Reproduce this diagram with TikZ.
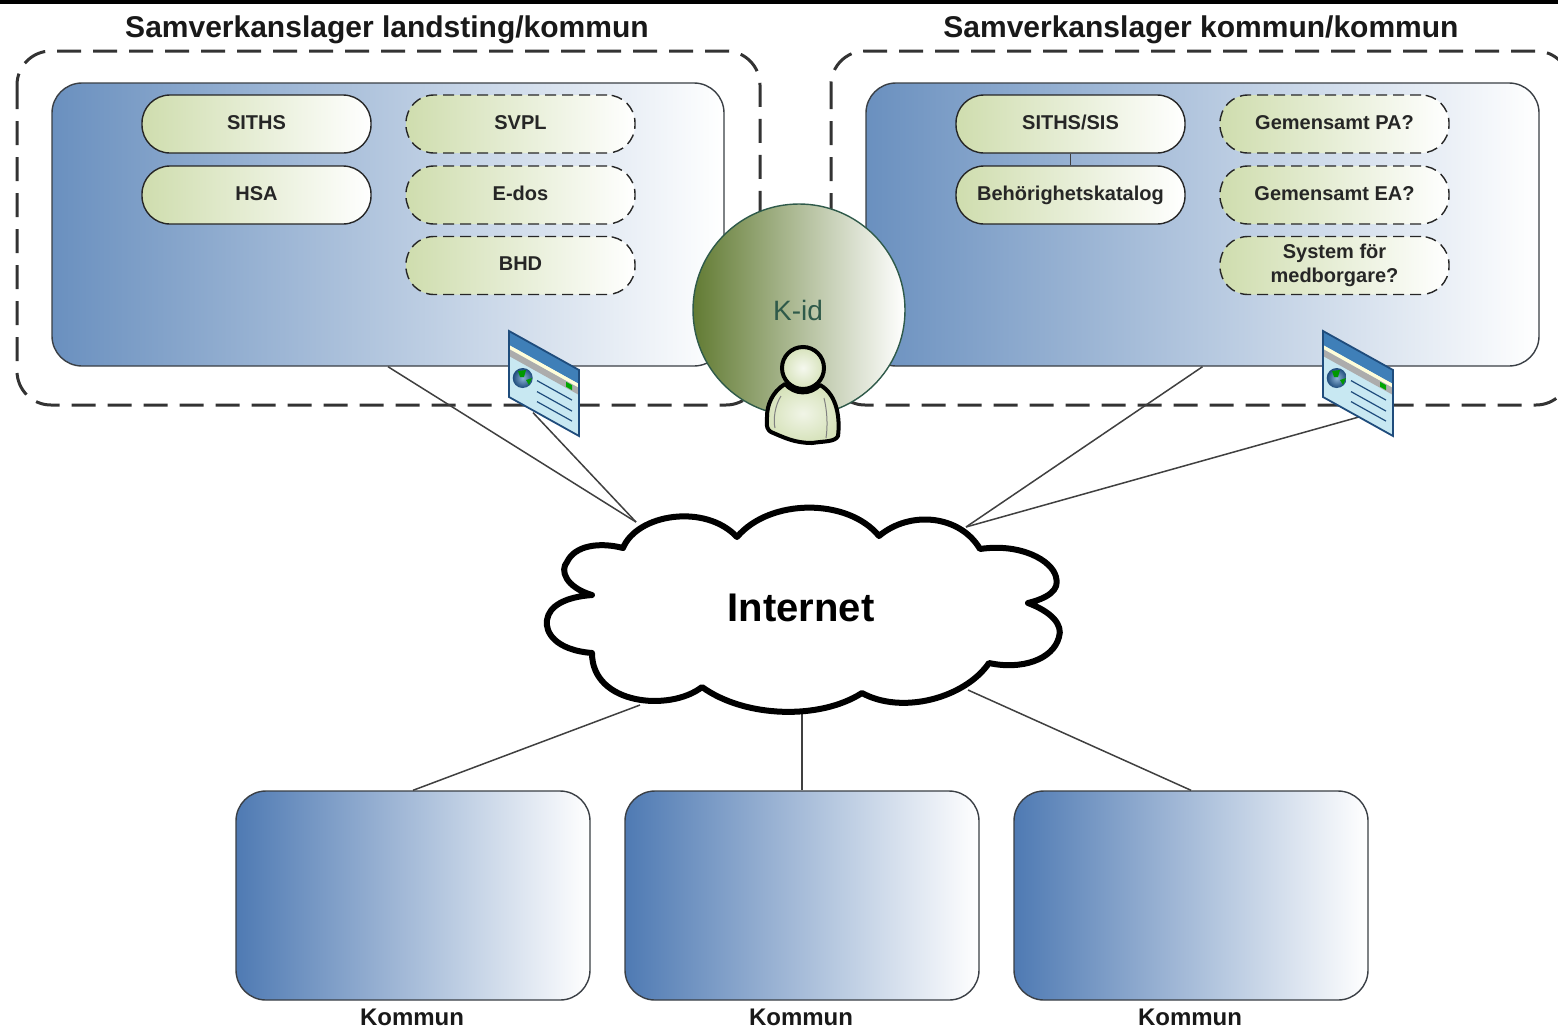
\documentclass[tikz,border=0pt]{standalone}
\usepackage{fontspec}
\setmainfont{Liberation Sans}
\usetikzlibrary{calc}
\definecolor{panelblue}{HTML}{6A90BF}
\definecolor{kommunblue}{HTML}{4F7AB3}
\definecolor{pillgreen}{HTML}{CFDDAE}
\definecolor{dashgray}{HTML}{333333}
\definecolor{circgreen}{HTML}{627B33}
\definecolor{circedge}{HTML}{2F5A4A}
\definecolor{framegray}{HTML}{3A3F45}
\definecolor{winblue}{HTML}{3F7FB8}
\definecolor{winedge}{HTML}{1F4C7C}
\definecolor{winbody}{HTML}{C8E8F2}
\tikzset{
  region/.style={draw=dashgray,line width=3pt,dash pattern=on 24pt off 12pt,rounded corners=34pt},
  panel/.style={draw=framegray,line width=1.4pt,rounded corners=30pt,left color=panelblue,right color=white,
    minimum width=672pt,minimum height=283pt,inner sep=0pt},
  kommunbox/.style={draw=framegray,line width=1.4pt,rounded corners=30pt,left color=kommunblue,right color=white,
    minimum width=354pt,minimum height=209pt,inner sep=0pt},
  pill/.style={draw=black!85,line width=1.4pt,rounded corners=28pt,left color=pillgreen,right color=white,
    minimum width=229pt,minimum height=58pt,inner sep=0pt,align=center,font=\fontsize{20}{24}\selectfont\bfseries,text=black!85},
  oneline/.style={text height=14pt,text depth=4pt},
  dashpill/.style={pill,dash pattern=on 11pt off 6pt},
  heading/.style={font=\fontsize{30}{34}\selectfont\bfseries,text=black!90},
  caption/.style={font=\fontsize{24}{28}\selectfont\bfseries,text=black!90},
  wire/.style={draw=black!75,line width=1.5pt},
  browser/.pic={
    \begin{scope}[x={(1pt,-0.557pt)},y={(0pt,-1pt)}]
      \fill[winbody] (0,0) -- (70,0) -- (70,66) -- (0,66) -- cycle;
      \fill[winblue] (0,0) -- (70,0) -- (70,14) -- (0,14) -- cycle;
      \fill[white!85!yellow] (0,14) -- (70,14) -- (70,18) -- (0,18) -- cycle;
      \fill[gray!65] (0,18) -- (70,18) -- (70,25) -- (0,25) -- cycle;
      \fill[green!65!black] (57,19) -- (63,19) -- (63,24) -- (57,24) -- cycle;
      \foreach \ly in {34,45,55} \draw[winedge,line width=1.2pt] (28,\ly) -- (63,\ly);
      \draw[winedge,line width=1.8pt] (0,0) -- (70,0) -- (70,66) -- (0,66) -- cycle;
    \end{scope}
    \shade[inner color=winblue!60!white,outer color=winedge] (13.7,47) circle[radius=10pt];
    \fill[green!60!black] (9,40) -- (17,39) -- (15,46) -- (11,46) -- cycle;
    \fill[green!60!black] (17,49) -- (23,47) -- (20,54) -- cycle;
  }
}
\begin{document}
\begin{tikzpicture}[x=1pt,y=-1pt]
\useasboundingbox (0,0) rectangle (1558,1029);
\fill[white] (0,0) rectangle (1558,1029);
\fill[black] (0,0) rectangle (1558,3.5);

\node[heading] (titleL) at (387,30) {Samverkanslager landsting/kommun};
\node[heading] (titleR) at (1201,30) {Samverkanslager kommun/kommun};

\draw[region] (17,51) rectangle (760,405);
\draw[region] (831,51) rectangle (1570,405);

\node[panel] (panelL) at (388,224.5) {};
\node[panel,minimum width=673pt] (panelR) at (1202.5,224.5) {};

\node[pill,oneline] (siths) at (256.5,124) {SITHS};
\node[pill,oneline] (hsa) at (256.5,195) {HSA};
\node[dashpill,oneline] (svpl) at (520.5,124) {SVPL};
\node[dashpill,oneline] (edos) at (520.5,195) {E-dos};
\node[dashpill,oneline] (bhd) at (520.5,265.5) {BHD};
\node[pill,oneline] (sithssis) at (1070.5,124) {SITHS/SIS};
\node[pill,oneline] (behor) at (1070.5,195) {Behörighetskatalog};
\node[dashpill,oneline] (pa) at (1334.5,124) {Gemensamt PA?};
\node[dashpill,oneline] (ea) at (1334.5,195) {Gemensamt EA?};
\node[dashpill] (sysm) at (1334.5,265.5) {System för\\medborgare?};
\draw[wire,line width=1.6pt] (sithssis) -- (behor);

% internet cloud
\coordinate (cloudNW) at (636,522);
\coordinate (cloudNE) at (966,527);
\coordinate (cloudSW) at (640,705);
\coordinate (cloudS) at (802,713);
\coordinate (cloudSE) at (968,690);
\coordinate (footL) at (533,412.6);
\coordinate (footR) at (1366,415);

\node[kommunbox] (k1) at (413,895.5) {};
\node[kommunbox] (k2) at (802,895.5) {};
\node[kommunbox] (k3) at (1191,895.5) {};
\node[caption] (k1t) at (412,1017.5) {Kommun};
\node[caption] (k2t) at (801,1017.5) {Kommun};
\node[caption] (k3t) at (1190,1017.5) {Kommun};

\draw[wire] (panelL.south) -- (cloudNW);
\draw[wire] (footL) -- (cloudNW);
\draw[wire] (panelR.south) -- (cloudNE);
\draw[wire] (footR) -- (cloudNE);
\draw[wire] (cloudSW) -- (k1.north);
\draw[wire] (cloudS) -- (k2.north);
\draw[wire] (cloudSE) -- (k3.north);

\pic at (509,331) {browser};
\pic at (1323,331) {browser};

\draw[black,line width=6pt,line join=round,fill=white]
  (623,548) .. controls (637,514) and (705,503) .. (737,537)
  .. controls (770,498) and (848,498) .. (879,536)
  .. controls (910,510) and (960,515) .. (980,549)
  .. controls (1020,543) and (1052,560) .. (1056,577)
  .. controls (1060,590) and (1048,598) .. (1028,603)
  .. controls (1052,612) and (1063,625) .. (1059,637)
  .. controls (1053,660) and (1021,670) .. (989,663)
  .. controls (965,698) and (902,715) .. (862,693)
  .. controls (820,720) and (745,718) .. (702,687)
  .. controls (670,712) and (592,705) .. (592,653)
  .. controls (555,650) and (545,632) .. (547,620)
  .. controls (549,606) and (565,597) .. (592,595)
  .. controls (565,587) and (560,570) .. (567,562)
  .. controls (575,545) and (600,542) .. (623,548) -- cycle;
\node[font=\fontsize{40}{44}\selectfont\bfseries,text=black] (inet) at (801,608) {Internet};

% K-id
\node[circle,draw=circedge,line width=1.4pt,left color=circgreen,right color=white,minimum size=212pt,inner sep=0pt] (kid) at (799,310) {};
\node[font=\fontsize{28}{32}\selectfont,text=circedge] (kidt) at (798,310) {K-id};

% person
\draw[black,line width=4pt,line join=round,inner color=white!70!pillgreen,outer color=pillgreen!85!white]
  (785,384) .. controls (772,392) and (767,405) .. (767,417)
  .. controls (766,428) and (768,430) .. (771,432)
  .. controls (785,438) and (795,443) .. (812,443)
  .. controls (825,441) and (835,442) .. (838,436)
  .. controls (840,420) and (838,395) .. (820,385)
  .. controls (810,395) and (795,395) .. (785,384) -- cycle;
\draw[gray,line width=1pt] (781,396) .. controls (775,405) and (773,420) .. (775,428);
\draw[gray,line width=1pt] (824,398) .. controls (827,410) and (828,425) .. (826,438);
\node[circle,draw=black,line width=4pt,inner color=white!80!pillgreen,outer color=pillgreen!85!white,minimum size=42pt,inner sep=0pt] (head) at (803,368) {};
\end{tikzpicture}
\end{document}
